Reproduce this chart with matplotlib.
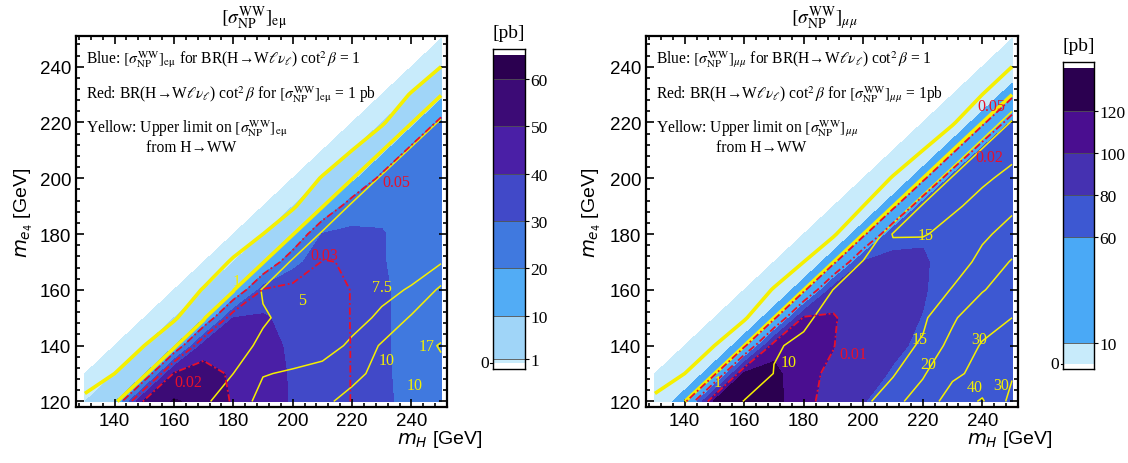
import numpy as np
import matplotlib
matplotlib.use("Agg")
from matplotlib import pyplot as plt

n = np.nan

# grid: m_H along columns, m_e4 along rows (GeV)
m_h = [130, 140, 150, 160, 170, 180, 190, 200, 210, 220, 230, 240, 250]
m_e4 = [120, 130, 140, 150, 160, 170, 180, 190, 200, 210, 220, 230, 240, 250]

# blue: [sigma_NP^WW]_emu (pb) for BR cot^2 beta = 1
sig_emu = [
    [0.9, 9, 52, 61, 57, 49, 45, 39, 35.5, 33.2, 31, 28.5, 25],
    [0, 0.95, 9, 51, 55, 48, 44, 39, 35.5, 33.2, 31, 28, 25],
    [n, 0, 0.95, 9, 44, 46, 43, 38.5, 35.5, 33.2, 31, 27.5, 25],
    [n, n, 0, 0.95, 9, 40, 41, 37, 35, 33.2, 31, 27.5, 25],
    [n, n, n, 0, 0.95, 9, 34, 35, 35, 33.2, 31, 27.5, 25],
    [n, n, n, n, 0, 0.95, 9, 28, 33.6, 33, 30.5, 27, 25],
    [n, n, n, n, n, 0, 0.95, 9, 30.5, 31.5, 30.5, 27, 25],
    [n, n, n, n, n, n, 0, 0.95, 9, 26, 28, 26.5, 25],
    [n, n, n, n, n, n, n, 0, 0.95, 7, 23, 26, 25],
    [n, n, n, n, n, n, n, n, 0, 0.95, 7, 23, 25],
    [n, n, n, n, n, n, n, n, n, 0, 0.95, 7, 23],
    [n, n, n, n, n, n, n, n, n, n, 0, 0.95, 7],
    [n, n, n, n, n, n, n, n, n, n, n, 0, 0.95],
    [n, n, n, n, n, n, n, n, n, n, n, n, 0],
]

# yellow: upper limit on [sigma_NP^WW]_emu from H->WW (pb)
lim_emu = [
    [0.7, 0.85, 2.5, 3.8, 4.6, 6.3, 8.2, 8.8, 9.5, 10.8, 12, 13, 14],
    [0, 0.5, 0.85, 2.5, 3.8, 5.0, 7.4, 7.7, 7.9, 9.3, 10.8, 12.5, 15.5],
    [n, 0, 0.5, 0.85, 2.6, 4.0, 5.5, 6.5, 7.0, 7.7, 10.3, 14, 17.5],
    [n, n, 0, 0.45, 0.85, 3.5, 4.7, 5.8, 6.6, 7.1, 7.7, 10.3, 13],
    [n, n, n, 0, 0.55, 0.85, 5.3, 5.05, 6.2, 6.8, 7.2, 7.6, 10.5],
    [n, n, n, n, 0, 0.6, 0.85, 5.5, 5.9, 6.3, 6.7, 7.0, 7.3],
    [n, n, n, n, n, 0, 0.5, 0.85, 5.5, 5.9, 6.2, 6.5, 6.8],
    [n, n, n, n, n, n, 0, 0.45, 0.85, 5.6, 6, 6.2, 6.4],
    [n, n, n, n, n, n, n, 0, 0.55, 0.85, 5.6, 6, 6.2],
    [n, n, n, n, n, n, n, n, 0, 0.5, 0.85, 5.6, 6],
    [n, n, n, n, n, n, n, n, n, 0, 0.45, 0.85, 5.6],
    [n, n, n, n, n, n, n, n, n, n, 0, 0.55, 0.85],
    [n, n, n, n, n, n, n, n, n, n, n, 0, 0.5],
    [n, n, n, n, n, n, n, n, n, n, n, n, 0],
]

# blue: [sigma_NP^WW]_mumu (pb)
sig_mumu = [
    [4, 14, 125, 135, 128, 104, 94, 80.5, 75, 70, 67, 65, 63],
    [0, 4, 14, 124, 126, 104, 97, 84, 79, 72, 68, 65, 63],
    [n, 0, 4, 14, 112, 108, 100.5, 88, 82, 78, 70, 66, 63],
    [n, n, 0, 4, 14, 103, 101.5, 90, 85, 79.5, 71, 67, 64],
    [n, n, n, 0, 4, 14, 92, 89, 86, 81.5, 72, 68, 65],
    [n, n, n, n, 0, 4, 14, 82, 84, 82, 73, 69, 66],
    [n, n, n, n, n, 0, 4, 14, 74, 78, 72, 69, 66],
    [n, n, n, n, n, n, 0, 4, 14, 70, 70, 68, 66],
    [n, n, n, n, n, n, n, 0, 4, 14, 68, 68, 66],
    [n, n, n, n, n, n, n, n, 0, 4, 14, 66, 65],
    [n, n, n, n, n, n, n, n, n, 0, 4, 14, 64],
    [n, n, n, n, n, n, n, n, n, n, 0, 4, 14],
    [n, n, n, n, n, n, n, n, n, n, n, 0, 4],
    [n, n, n, n, n, n, n, n, n, n, n, n, 0],
]

# yellow: upper limit on [sigma_NP^WW]_mumu (pb)
lim_mumu = [
    [0.7, 0.95, 6, 10.2, 11, 12, 13, 14, 17.6, 24, 35, 41, 27],
    [0, 0.5, 0.95, 6, 10.1, 11, 12, 13.2, 14.6, 19, 28, 33, 31],
    [n, 0, 0.5, 0.95, 9.8, 10.4, 11.5, 12.5, 13.5, 15.5, 22, 31, 33],
    [n, n, 0, 0.45, 0.95, 9.6, 10.8, 12, 13, 14.2, 19, 25, 30],
    [n, n, n, 0, 0.55, 0.95, 10.2, 11, 12, 13, 15.2, 19.5, 24],
    [n, n, n, n, 0, 0.5, 0.95, 10.5, 11.5, 12.5, 13.5, 15.8, 20.5],
    [n, n, n, n, n, 0, 0.45, 0.95, 15.5, 15.3, 13.8, 14.5, 16],
    [n, n, n, n, n, n, 0, 0.5, 0.95, 16, 15.5, 14, 14.5],
    [n, n, n, n, n, n, n, 0, 0.55, 0.95, 16, 15.5, 14.2],
    [n, n, n, n, n, n, n, n, 0, 0.5, 0.95, 16, 15.8],
    [n, n, n, n, n, n, n, n, n, 0, 0.45, 0.95, 16],
    [n, n, n, n, n, n, n, n, n, n, 0, 0.5, 0.95],
    [n, n, n, n, n, n, n, n, n, n, n, 0, 0.5],
    [n, n, n, n, n, n, n, n, n, n, n, n, 0],
]

# colour bands (pb)
lev_emu = [0, 1, 10, 20, 30, 40, 50, 60, 65]
col_emu = ['#c8ebfb', '#a0d5f8', '#52acf5', '#4079df', '#4149c8', '#4a1fa6', '#3c0b76', '#2b0050']
lev_mumu = [0, 10, 60, 80, 100, 120, 140]
col_mumu = ['#c8ebfb', '#4aa9f6', '#3d58d2', '#4531b1', '#4a0e90', '#2b0050']

# red: BR cot^2 beta for sigma = 1 pb
br_emu = [0.05, 0.03, 0.02]
br_mumu = [0.05, 0.02, 0.01]

# yellow contour levels
thick_lev = [0.5, 1]
thin_emu = [5, 7.5, 10, 17]
thin_mumu = [10, 15, 20, 30, 40]

# contour labels: text, m_H, m_e4, colour
lab_emu = [("1", 181, 163, 'y'), ("5", 203, 156.5, 'y'), ("7.5", 230, 161, 'y'),
           ("10", 231.5, 135, 'y'), ("17", 245, 140, 'y'), ("10", 241, 126, 'y'),
           ("0.05", 235, 198.5, 'r'), ("0.03", 210.5, 172.5, 'r'), ("0.02", 165, 127, 'r')]
lab_mumu = [("1", 151, 127, 'y'), ("10", 175, 134, 'y'), ("15", 221, 179.5, 'y'),
            ("15", 219, 142.5, 'y'), ("20", 222, 133.5, 'y'), ("30", 239, 142.5, 'y'),
            ("40", 237.5, 125, 'y'), ("30", 246.5, 126, 'y'),
            ("0.05", 243, 226, 'r'), ("0.02", 242.5, 207.5, 'r'), ("0.01", 196.5, 137, 'r')]

YEL = '#f5f000'
RED = '#e8102a'
SERIF = ['Liberation Serif', 'DejaVu Serif']

plt.rcParams['font.family'] = ['Liberation Sans', 'DejaVu Sans']

fig = plt.figure(figsize=(11.28, 4.64), dpi=100)
W, H = 1128.0, 464.0


def panel(ax, sig, lim, lev, cols, br, thin, labels, sub):
    X, Y = np.meshgrid(m_h, m_e4)
    s = np.array(sig, dtype=float)
    u = np.nan_to_num(np.array(lim, dtype=float), nan=0)
    ax.contourf(X, Y, np.nan_to_num(s, nan=-1), levels=lev, colors=cols)
    ax.contour(X, Y, u, levels=thick_lev, colors=YEL, linewidths=2.6)
    ax.contour(X, Y, u, levels=thin, colors=YEL, linewidths=1.1)
    red = sorted(1.0 / np.array(br))
    ax.contour(X, Y, np.nan_to_num(s, nan=0), levels=red, colors=RED,
               linewidths=1.3, linestyles=[(0, (4, 1.5, 1, 1.5))])
    for t, x, y, c in labels:
        ax.text(x, y, t, color=YEL if c == 'y' else RED, fontsize=11.5,
                family=SERIF, ha='center', va='center')
    ax.set_xlim(127, 252)
    ax.set_ylim(118, 251)
    ax.set_xticks([140, 160, 180, 200, 220, 240])
    ax.set_yticks([120, 140, 160, 180, 200, 220, 240])
    ax.set_xticks(np.arange(128, 252, 4), minor=True)
    ax.set_yticks(np.arange(120, 251, 4), minor=True)
    ax.tick_params(which='both', direction='in', top=True, right=True, labelsize=13.5, width=1.2)
    ax.tick_params(which='major', length=6)
    ax.tick_params(which='minor', length=3)
    for sp in ax.spines.values():
        sp.set_linewidth(1.6)
    kw = dict(family=SERIF, fontsize=11.2, math_fontfamily='stix', ha='left', va='center',
              transform=ax.transAxes)
    sg = r'$[\sigma^{\rm WW}_{\rm NP}]_{' + sub + '}$'
    br_txt = r'BR(H→W$\ell\nu_\ell$) cot$^2\,\beta$'
    ax.text(0.027, 0.938, 'Blue: ' + sg + ' for ' + br_txt + ' = 1', **kw)
    ax.text(0.027, 0.844, 'Red: ' + br_txt + ' for ' + sg +
            (' = 1 pb' if 'e' in sub else ' = 1pb'), **kw)
    ax.text(0.027, 0.752, 'Yellow: Upper limit on ' + sg, **kw)
    ax.text(0.189, 0.70, 'from H→WW', **kw)


def cbar(cax, lev, cols, lo, hi, ticks):
    for a, b, c in zip(lev[:-1], lev[1:], cols):
        cax.axhspan(a, b, color=c, lw=0)
    for v in lev[1:-1]:
        cax.axhline(v, color='#505050', lw=0.6)
    cax.set_ylim(lo, hi)
    cax.set_xticks([])
    cax.yaxis.tick_right()
    cax.set_yticks(ticks)
    cax.set_yticklabels([str(t) for t in ticks], family=SERIF, fontsize=12.5)
    cax.tick_params(axis='y', direction='out', length=3, pad=1)
    cax.text(-0.12, 0, '0', transform=cax.get_yaxis_transform(), ha='right', va='center',
             family=SERIF, fontsize=12.5)
    cax.plot([-0.08, 0], [0, 0], color='k', lw=0.8, transform=cax.get_yaxis_transform(), clip_on=False)
    for sp in cax.spines.values():
        sp.set_linewidth(1.0)
    cax.text(0.5, 1.025, '[pb]', transform=cax.transAxes, ha='center', va='bottom',
             family=SERIF, fontsize=14)


axL = fig.add_axes([76 / W, 56 / H, 371 / W, 371 / H])
axR = fig.add_axes([646 / W, 56 / H, 372 / W, 371 / H])
caxL = fig.add_axes([493 / W, 94 / H, 32 / W, 320 / H])
caxR = fig.add_axes([1063 / W, 94 / H, 31 / W, 307 / H])

panel(axL, sig_emu, lim_emu, lev_emu, col_emu, br_emu, thin_emu, lab_emu, r'\rm{e}\mu')
panel(axR, sig_mumu, lim_mumu, lev_mumu, col_mumu, br_mumu, thin_mumu, lab_mumu, r'\mu\mu')
cbar(caxL, lev_emu, col_emu, -1.2, 66.3, [1, 10, 20, 30, 40, 50, 60])
cbar(caxR, lev_mumu, col_mumu, -2.4, 143, [10, 60, 80, 100, 120])

for xc, sub in [(254, r'\rm{e}\mu'), (824, r'\mu\mu')]:
    fig.text(xc / W, 1 - 18 / H, r'$[\sigma^{\rm WW}_{\rm NP}]_{' + sub + '}$', ha='center', va='center',
             family=SERIF, fontsize=14, math_fontfamily='stix')
for xl, yl in [(397, 24), (967, 592)]:
    fig.text(xl / W, 1 - 440 / H, r'$m_H$ [GeV]', ha='left', va='center', fontsize=14,
             math_fontfamily='dejavusans')
    fig.text(yl / W, 1 - 213 / H, r'$m_{e_4}$ [GeV]', ha='center', va='center', fontsize=14,
             rotation=90, math_fontfamily='dejavusans')

fig.savefig('out.png', dpi=100)
